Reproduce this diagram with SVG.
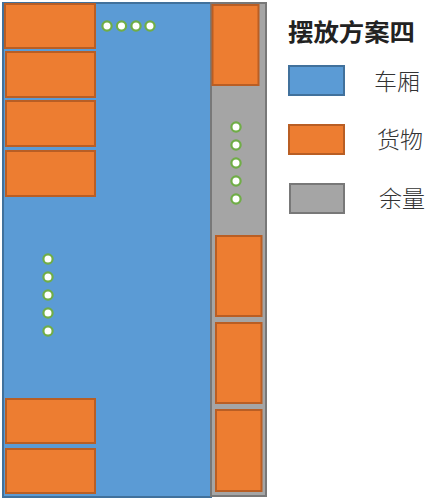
<svg xmlns="http://www.w3.org/2000/svg" width="432" height="501" viewBox="0 0 432 501">
<style>
.car{fill:#5B9BD5;stroke:#41719C;stroke-width:2}
.cargo{fill:#ED7D31;stroke:#B95E24;stroke-width:2}
.rest{fill:#A5A5A5;stroke:#787878;stroke-width:2}
.dot{fill:#FFFFFF;stroke:#70AD47;stroke-width:2.2}
.t{font-family:"Noto Sans CJK SC","Noto Sans",sans-serif;fill:#222}
.l{font-weight:300;fill:#333}
</style>
<rect width="432" height="501" fill="#FFFFFF"/>
<g id="car"><rect class="car" x="3" y="3" width="208" height="494"/></g>
<g id="rest"><rect class="rest" x="211" y="3" width="55" height="493"/></g>
<g id="cargo-left">
<rect class="cargo" x="5" y="4" width="90" height="44"/>
<rect class="cargo" x="6" y="52" width="89" height="45"/>
<rect class="cargo" x="6" y="101" width="89" height="45"/>
<rect class="cargo" x="6" y="151" width="89" height="45"/>
<rect class="cargo" x="6" y="399" width="89" height="44"/>
<rect class="cargo" x="6" y="449" width="89" height="44"/>
</g>
<g id="cargo-right">
<rect class="cargo" x="212.5" y="5" width="46" height="80"/>
<rect class="cargo" x="216" y="236" width="45.5" height="80"/>
<rect class="cargo" x="216" y="323" width="45.5" height="80"/>
<rect class="cargo" x="216" y="410" width="45.5" height="81"/>
</g>
<g id="dots">
<circle class="dot" cx="107" cy="26" r="4.6"/>
<circle class="dot" cx="121.5" cy="26" r="4.6"/>
<circle class="dot" cx="136" cy="26" r="4.6"/>
<circle class="dot" cx="150" cy="26" r="4.6"/>
<circle class="dot" cx="236" cy="127" r="4.6"/>
<circle class="dot" cx="236" cy="145" r="4.6"/>
<circle class="dot" cx="236" cy="163" r="4.6"/>
<circle class="dot" cx="236" cy="181" r="4.6"/>
<circle class="dot" cx="236" cy="199" r="4.6"/>
<circle class="dot" cx="48" cy="259" r="4.6"/>
<circle class="dot" cx="48" cy="277" r="4.6"/>
<circle class="dot" cx="48" cy="295" r="4.6"/>
<circle class="dot" cx="48" cy="313" r="4.6"/>
<circle class="dot" cx="48" cy="331" r="4.6"/>
</g>
<g id="legend">
<text class="t" x="288" y="41" font-size="24" font-weight="bold" textLength="127" lengthAdjust="spacingAndGlyphs">摆放方案四</text>
<rect class="car" x="289" y="66" width="55" height="29"/>
<text class="t l" x="374" y="90" font-size="23">车厢</text>
<rect class="cargo" x="289" y="125" width="55" height="29"/>
<text class="t l" x="377" y="148" font-size="23">货物</text>
<rect class="rest" x="290" y="184" width="54" height="29"/>
<text class="t l" x="379" y="207" font-size="23">余量</text>
</g>
</svg>
